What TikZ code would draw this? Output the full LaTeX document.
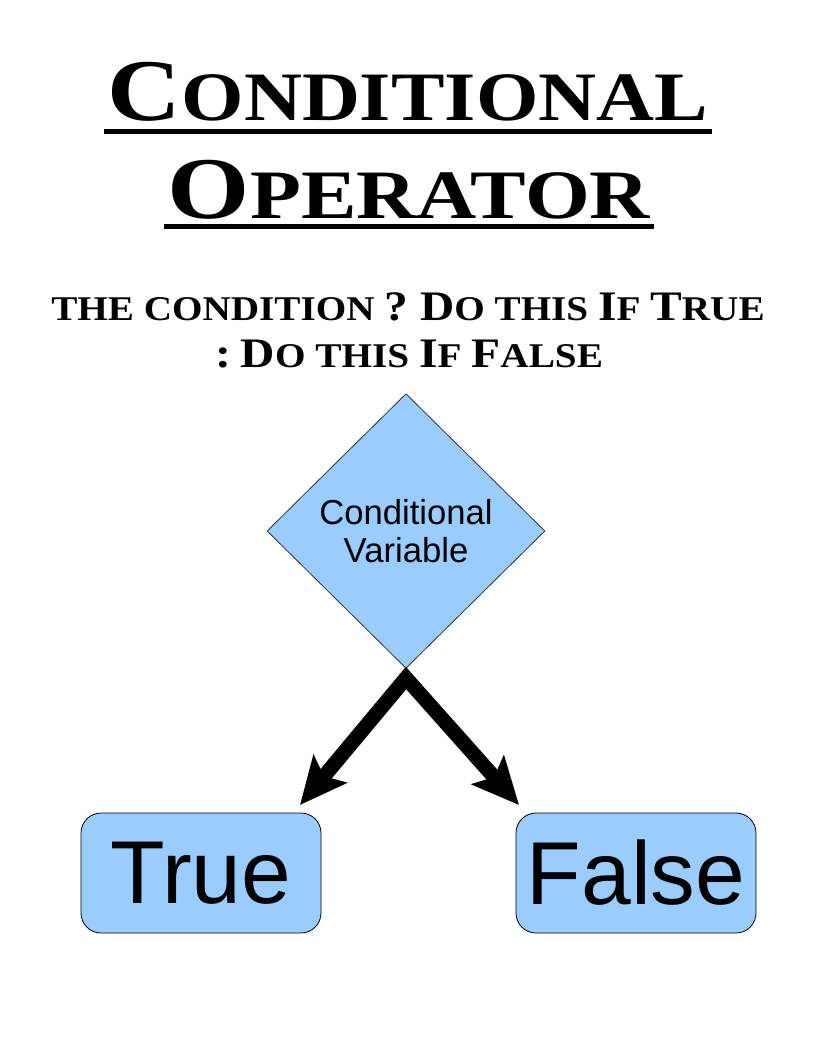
\documentclass[tikz,border=0pt]{standalone}
\usepackage{fontspec}
\setmainfont{Liberation Sans}
\newfontfamily\headfont{Liberation Serif}
\usepackage{graphicx}
\usepackage{xcolor}
\definecolor{shapeBlue}{HTML}{99CCFF}
\definecolor{edgeGray}{HTML}{333333}
\usepackage{tikz}
\usetikzlibrary{
    shapes.geometric,
    arrows.meta
}
% stretch a line of heading text to a given width
\newcommand{\fitw}[2]{\resizebox{#1}{\height}{#2}}
% faked small caps sizes
\newcommand{\hbig}{\fontsize{66pt}{66pt}\selectfont}
\newcommand{\hsml}{\fontsize{52pt}{52pt}\selectfont}
\newcommand{\sbig}{\fontsize{31.5pt}{31.5pt}\selectfont}
\newcommand{\ssml}{\fontsize{26pt}{26pt}\selectfont}
\tikzset{
    % Heading lines
    heading/.style={
        font=\headfont\bfseries,
        inner sep=0pt,
        anchor=base,
    },
    % Underline under the heading
    rule line/.style={
        line width=3.75pt,
        draw=black,
    },
    % Decision diamond
    decision/.style={
        diamond,
        aspect=1,
        draw=edgeGray,
        line width=0.6pt,
        fill=shapeBlue,
        inner sep=0pt,
        minimum width=208.5pt,
        minimum height=206pt,
        font=\fontsize{26pt}{28pt}\selectfont,
        align=center,
    },
    % Result boxes
    answer/.style={
        rectangle,
        rounded corners=15pt,
        draw=black,
        line width=0.6pt,
        fill=shapeBlue,
        minimum width=180pt,
        minimum height=90pt,
        font=\fontsize{67pt}{67pt}\selectfont,
    },
    % Thick branch arrows
    branch arrow/.style={
        {Stealth[length=35pt, width=32pt, inset=7pt]}-{Stealth[length=35pt, width=32pt, inset=7pt]},
        line width=11pt,
        line join=miter,
    },
}

\begin{document}
\begin{tikzpicture}[x=0.75pt, y=-0.75pt]
    \useasboundingbox (0,0) rectangle (816,1056);

    \node (headA) [heading] at (408,120) {\fitw{450pt}{{\hbig C}{\hsml ONDITIONAL}}};
    \node (headB) [heading] at (409,218) {\fitw{361.5pt}{{\hbig O}{\hsml PERATOR}}};
    \draw [rule line] ([xshift=-2.5pt, yshift=-8.25pt]headA.base west) -- ([xshift=2.5pt, yshift=-8.25pt]headA.base east);
    \draw [rule line] ([xshift=-2.5pt, yshift=-6pt]headB.base west) -- ([xshift=2.5pt, yshift=-6pt]headB.base east);

    \node (syntaxA) [heading] at (408,320) {\fitw{535pt}{{\ssml THE CONDITION }{\sbig ? D}{\ssml O THIS }{\sbig I}{\ssml F }{\sbig T}{\ssml RUE}}};
    \node (syntaxB) [heading] at (409,367) {\fitw{291pt}{{\sbig :}{\ssml\ }{\sbig D}{\ssml O THIS }{\sbig I}{\ssml F }{\sbig F}{\ssml ALSE}}};

    \node (cond) [decision] at (406,531) {Conditional\\Variable};

    \node (yes) [answer] at (201,873) {True};
    \node (no) [answer] at (636,873) {False};

    \coordinate (yesTip) at (300,805);
    \coordinate (noTip) at (519,805);
    \draw [branch arrow] (yesTip) -- ([yshift=-7pt]cond.south) -- (noTip);
\end{tikzpicture}
\end{document}
